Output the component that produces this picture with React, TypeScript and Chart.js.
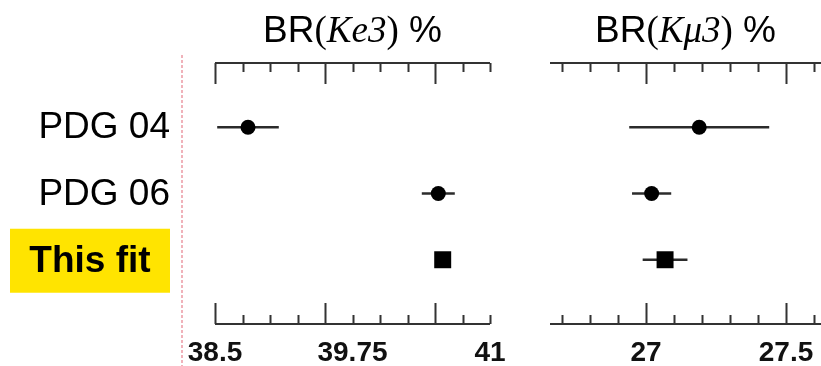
import React, { useEffect, useRef } from 'react';
import { Chart, registerables } from 'chart.js';

Chart.register(...registerables);

// ---------- data ----------
const CATEGORIES = ['PDG 04', 'PDG 06', 'This fit'];
const HIGHLIGHT = 'This fit';
const MARKERS = ['circle', 'circle', 'rect'];

const KE3_VALUES = [38.8, 40.53, 40.57];
const KE3_ERRORS = [0.28, 0.15, 0.05];
const KMU3_VALUES = [27.19, 27.02, 27.068];
const KMU3_ERRORS = [0.25, 0.07, 0.08];

const KE3_TICKS = [38.5, 38.75, 39, 39.25, 39.5, 39.75, 40, 40.25, 40.5, 40.75, 41];
const KE3_MAJOR = [38.5, 39.5, 40.5];
const KE3_LABELS = [38.5, 39.75, 41];
const KE3_RANGE = [38.5, 41];

const KMU3_TICKS = [26.7, 26.8, 26.9, 27, 27.1, 27.2, 27.3, 27.4, 27.5, 27.6];
const KMU3_MAJOR = [27, 27.5];
const KMU3_LABELS = [27, 27.5];
const KMU3_RANGE = [26.657, 27.625];

const KE3_TITLE: [string, string][] = [['BR', 'sans'], ['(', 'serif'], ['Ke3', 'italic'], [')', 'serif'], [' %', 'sans']];
const KMU3_TITLE: [string, string][] = [['BR', 'sans'], ['(', 'serif'], ['K\u03bc3', 'italic'], [')', 'serif'], [' %', 'sans']];

const SANS = '"Liberation Sans", Arial, sans-serif';
const SERIF = '"Liberation Serif", "Times New Roman", serif';

const CANVAS_H = 374;

function fontFor(kind: string, size: number) {
  if (kind === 'sans') return `${size}px ${SANS}`;
  if (kind === 'italic') return `italic ${size}px ${SERIF}`;
  return `${size}px ${SERIF}`;
}

function near(list: number[], v: number) {
  return list.some((m) => Math.abs(m - v) < 1e-6);
}

type PanelCfg = {
  values: number[];
  errors: number[];
  ticks: number[];
  major: number[];
  labels: number[];
  range: number[];
  title: [string, string][];
  padLeft: number;
  padRight: number;
  showCategories: boolean;
};

function makeChart(canvas: HTMLCanvasElement, cfg: PanelCfg) {
  const datasets: any[] = [];
  cfg.values.forEach((v, i) => {
    datasets.push({
      type: 'scatter',
      data: [
        { x: v - cfg.errors[i], y: i + 1 },
        { x: v + cfg.errors[i], y: i + 1 },
      ],
      showLine: true,
      borderColor: '#2b2b2b',
      borderWidth: 2.5,
      pointRadius: 0,
      order: 2,
    });
  });
  cfg.values.forEach((v, i) => {
    datasets.push({
      type: 'scatter',
      data: [{ x: v, y: i + 1 }],
      pointStyle: MARKERS[i],
      pointRadius: MARKERS[i] === 'rect' ? 12 : 7.5,
      backgroundColor: '#000',
      borderColor: '#000',
      borderWidth: 0,
      order: 1,
    });
  });

  const decor = {
    id: 'decor',
    afterDraw(chart: any) {
      const { ctx, chartArea, scales } = chart;
      const xs = scales.x;
      const ys = scales.y;
      ctx.save();
      // axis lines (top and bottom)
      ctx.strokeStyle = '#333';
      ctx.lineWidth = 2;
      [chartArea.top, chartArea.bottom].forEach((y: number) => {
        ctx.beginPath();
        ctx.moveTo(chartArea.left, y);
        ctx.lineTo(chartArea.right, y);
        ctx.stroke();
      });
      // inward tick marks
      xs.ticks.forEach((t: any) => {
        const x = Math.round(xs.getPixelForValue(t.value)) + 0.5;
        const len = near(cfg.major, t.value) ? 21 : 9;
        ctx.beginPath();
        ctx.moveTo(x, chartArea.top);
        ctx.lineTo(x, chartArea.top + len);
        ctx.moveTo(x, chartArea.bottom);
        ctx.lineTo(x, chartArea.bottom - len);
        ctx.stroke();
      });
      // title with mixed fonts
      const size = 37;
      let total = 0;
      const widths = cfg.title.map(([txt, kind]) => {
        ctx.font = fontFor(kind, size);
        const w = ctx.measureText(txt).width;
        total += w;
        return w;
      });
      let x0 = (chartArea.left + chartArea.right) / 2 - total / 2;
      ctx.fillStyle = '#000';
      ctx.textBaseline = 'alphabetic';
      ctx.textAlign = 'left';
      cfg.title.forEach(([txt, kind], i) => {
        ctx.font = fontFor(kind, size);
        ctx.fillText(txt, x0, 42);
        x0 += widths[i];
      });
      // category labels + separator
      if (cfg.showCategories) {
        ctx.save();
        ctx.strokeStyle = '#f0b2ba';
        ctx.lineWidth = 2;
        ctx.setLineDash([3, 2]);
        ctx.beginPath();
        ctx.moveTo(182, 55);
        ctx.lineTo(182, chart.height);
        ctx.stroke();
        ctx.restore();
        CATEGORIES.forEach((c, i) => {
          const y = ys.getPixelForValue(i + 1);
          ctx.textBaseline = 'middle';
          if (c === HIGHLIGHT) {
            ctx.fillStyle = '#ffe400';
            ctx.fillRect(10, y - 31, 160, 64);
            ctx.fillStyle = '#000';
            ctx.font = `bold 37px ${SANS}`;
            ctx.textAlign = 'center';
            ctx.fillText(c, 90, y + 2);
          } else {
            ctx.fillStyle = '#000';
            ctx.font = `37px ${SANS}`;
            ctx.textAlign = 'right';
            ctx.fillText(c, 170, y + 1);
          }
        });
      }
      ctx.restore();
    },
  };

  return new Chart(canvas, {
    type: 'scatter',
    data: { datasets },
    options: {
      responsive: false,
      animation: false,
      devicePixelRatio: 1,
      layout: { padding: { top: 63, left: cfg.padLeft, right: cfg.padRight, bottom: 0 } },
      plugins: { legend: { display: false }, tooltip: { enabled: false }, title: { display: false } },
      scales: {
        x: {
          type: 'linear',
          position: 'bottom',
          min: cfg.range[0],
          max: cfg.range[1],
          grid: { display: false },
          border: { display: false },
          afterBuildTicks: (scale: any) => {
            scale.ticks = cfg.ticks.map((value) => ({ value }));
          },
          ticks: {
            autoSkip: false,
            maxRotation: 0,
            padding: 7,
            color: '#111',
            font: { family: SANS, size: 28, weight: 'bold', lineHeight: 1 },
            callback: (value: any) => (near(cfg.labels, Number(value)) ? String(value) : ''),
          },
        },
        y: {
          type: 'linear',
          display: false,
          reverse: true,
          min: 0.03,
          max: 3.97,
        },
      },
    } as any,
    plugins: [decor],
  });
}

export default function App() {
  const leftRef = useRef<HTMLCanvasElement | null>(null);
  const rightRef = useRef<HTMLCanvasElement | null>(null);

  useEffect(() => {
    const left = makeChart(leftRef.current!, {
      values: KE3_VALUES,
      errors: KE3_ERRORS,
      ticks: KE3_TICKS,
      major: KE3_MAJOR,
      labels: KE3_LABELS,
      range: KE3_RANGE,
      title: KE3_TITLE,
      padLeft: 215,
      padRight: 30,
      showCategories: true,
    });
    const right = makeChart(rightRef.current!, {
      values: KMU3_VALUES,
      errors: KMU3_ERRORS,
      ticks: KMU3_TICKS,
      major: KMU3_MAJOR,
      labels: KMU3_LABELS,
      range: KMU3_RANGE,
      title: KMU3_TITLE,
      padLeft: 30,
      padRight: 30,
      showCategories: false,
    });
    return () => {
      left.destroy();
      right.destroy();
    };
  }, []);

  return (
    <div style={{ position: 'fixed', left: 0, top: 0, width: 821, height: 366, overflow: 'hidden', background: '#fff' }}>
      <canvas ref={leftRef} width={520} height={CANVAS_H} style={{ position: 'absolute', left: 0, top: 0, width: 520, height: CANVAS_H }} />
      <canvas ref={rightRef} width={331} height={CANVAS_H} style={{ position: 'absolute', left: 520, top: 0, width: 331, height: CANVAS_H }} />
    </div>
  );
}
